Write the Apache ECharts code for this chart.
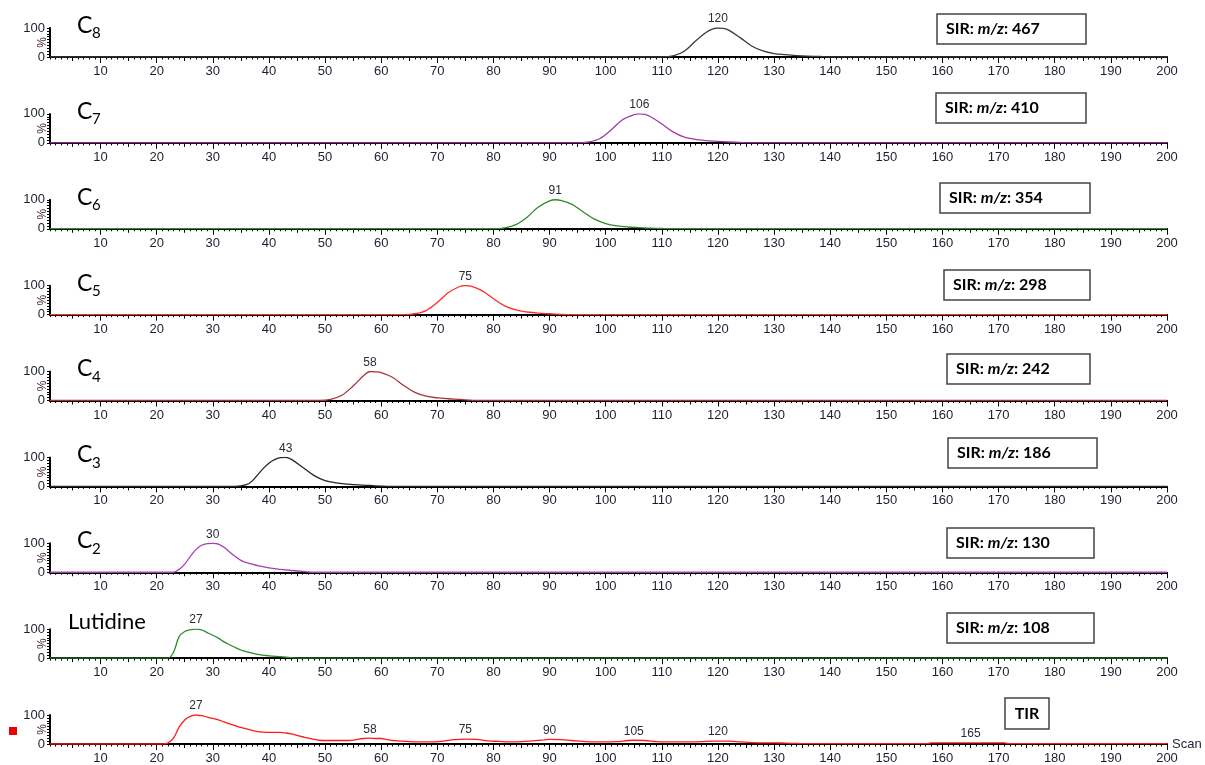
<!DOCTYPE html>
<html>
<head>
<meta charset="utf-8">
<script src="https://cdn.jsdelivr.net/npm/echarts@6/dist/echarts.min.js"></script>
<style>
html, body { margin: 0; padding: 0; background: #fff; }
#chart { width: 1205px; height: 765px; }
</style>
</head>
<body>
<div id="chart"></div>
<script>
// Scan axis: labelled every 10, medium ticks every 5
const scanLabels = [10, 20, 30, 40, 50, 60, 70, 80, 90, 100, 110, 120, 130, 140, 150, 160, 170, 180, 190, 200];
const scanMidTicks = [5, 15, 25, 35, 45, 55, 65, 75, 85, 95, 105, 115, 125, 135, 145, 155, 165, 175, 185, 195];
const intensityLabels = [0, 100];

// Chromatogram traces: [scan, relative intensity %]
const traceC8 = [[1,0],[110,0],[112,4],[114,20],[116,55],[118,86],[119,96],[120,100],[121,99],[122,92],[124,66],[126,38],[128,21],[130,12],[132,8],[134,5],[136,3],[138,2],[139,1],[140,0],[200,0]];
const traceC7 = [[1,0],[95,0],[97,3],[99,15],[101,45],[103,80],[105,97],[106,100],[107,98],[108,90],[110,65],[112,38],[114,20],[116,12],[118,8],[120,5],[122,3],[124,2],[125,0],[200,0]];
const traceC6 = [[1,0],[80,0],[82,3],[84,14],[86,40],[88,75],[90,96],[91,100],[92,98],[94,84],[96,58],[98,33],[100,18],[102,10],[104,6],[106,4],[108,2],[110,1],[111,0],[200,0]];
const traceC5 = [[1,0],[64,0],[66,3],[68,14],[70,42],[72,76],[74,97],[75,100],[76,98],[78,82],[80,55],[82,30],[84,16],[86,9],[88,5],[90,3],[92,1],[93,0],[200,0]];
const traceC4 = [[1,0],[49,0],[51,4],[53,18],[55,50],[57,88],[58,100],[59,99],[60,96],[62,80],[64,52],[66,28],[68,15],[70,9],[72,6],[74,4],[76,1],[77,0],[200,0]];
const traceC3 = [[1,0],[34,0],[36,6],[37,18],[39,62],[40,80],[41,92],[42,99],[43,100],[44,93],[46,66],[48,38],[50,20],[52,12],[54,8],[56,5],[58,3],[60,1],[61,0],[200,0]];
const traceC2 = [[1,0],[23,0],[24,10],[25,28],[26,55],[27,78],[28,93],[29,99],[30,100],[31,97],[32,86],[33,70],[34,54],[35,41],[36,33],[38,23],[40,15],[42,10],[44,6],[46,3],[47,1],[48,0],[200,0]];
const traceLutidine = [[1,0],[22,0],[23,20],[24,74],[25,92],[26,98],[27,100],[28,97],[29,88],[30,79],[31,69],[32,56],[33,46],[34,37],[35,28],[36,22],[38,13],[40,8],[42,5],[44,2],[45,0],[200,0]];
const traceTIR = [[1,0],[21,0],[22,3],[23,20],[24,58],[25,83],[26,95],[27,100],[28,98],[29,93],[30,88],[31,83],[32,76],[33,69],[34,63],[35,57],[36,52],[37,47],[38,43],[39,41],[40,40],[41,40],[42,40],[43,38],[44,35],[45,30],[46,25],[47,20],[48,16],[49,13],[50,12],[52,12],[54,12],[55,13],[56,17],[57,19],[58,20],[59,19],[60,19],[61,15],[62,12],[63,11],[65,8],[67,7],[69,7],[71,10],[73,15],[75,17],[77,16],[79,11],[81,9],[83,7],[85,8],[87,11],[89,14],[90,16],[92,15],[94,12],[96,9],[98,7],[100,7],[102,8],[104,12],[105,13],[107,12],[109,8],[111,7],[113,7],[115,7],[117,8],[119,10],[120,10],[122,10],[124,7],[126,5],[128,4],[130,4],[132,3],[134,2],[136,1],[150,1],[157,1],[158,4],[165,4],[171,4],[172,1],[200,1]];

// Peak apex scans annotated on each trace
const peaksC8 = [120];
const peaksC7 = [106];
const peaksC6 = [91];
const peaksC5 = [75];
const peaksC4 = [58];
const peaksC3 = [43];
const peaksC2 = [30];
const peaksLutidine = [27];
const peaksTIR = [27, 58, 75, 90, 105, 120, 165];

// Panel titles (base, subscript) and monitored ions
const titleBase = ['C', 'C', 'C', 'C', 'C', 'C', 'C', 'Lutidine', ''];
const titleSub = ['8', '7', '6', '5', '4', '3', '2', '', ''];
const sirMz = [467, 410, 354, 298, 242, 186, 130, 108];

const traces = [traceC8, traceC7, traceC6, traceC5, traceC4, traceC3, traceC2, traceLutidine, traceTIR];
const peaks = [peaksC8, peaksC7, peaksC6, peaksC5, peaksC4, peaksC3, peaksC2, peaksLutidine, peaksTIR];
const colors = ['#3a3a3a', '#a03aa6', '#2f8a2f', '#ff2b2b', '#a8323c', '#262626', '#a640b4', '#2e8a2e', '#ff1a1a'];

// Layout
const PANEL_TOP = 28, PANEL_STEP = 85.875, PANEL_H = 29, GRID_LEFT = 50, GRID_RIGHT = 38;
const boxLeft = [937, 936, 940, 944, 947, 948, 947, 947];
const boxTop = [14, 93, 183, 270, 354, 438, 528, 613];
const boxWidth = [149, 150, 150, 146, 143, 149, 147, 147];

const axisFont = 'Liberation Sans, Arial, sans-serif';
const axisTextColor = '#1c2030';
const grids = [], xAxes = [], yAxes = [], series = [], graphics = [];

traces.forEach((trace, i) => {
  const top = PANEL_TOP + PANEL_STEP * i;
  grids.push({ left: GRID_LEFT, right: GRID_RIGHT, top: top, height: PANEL_H, containLabel: false, outerBoundsMode: 'none' });
  const last = i === traces.length - 1;
  const base = xAxes.length;
  // main scan axis with labels and long ticks
  xAxes.push({
    type: 'value', gridIndex: i, min: 1, max: 200, position: 'bottom',
    axisLine: { show: true, lineStyle: { color: '#000', width: 2 } },
    axisTick: { show: true, customValues: scanLabels, length: 6, lineStyle: { color: '#000', width: 1 } },
    axisLabel: { show: true, customValues: scanLabels, margin: 8, color: axisTextColor, fontSize: 13, fontFamily: axisFont },
    splitLine: { show: false },
    name: last ? 'Scan' : '', nameLocation: 'end', nameGap: 5, nameMoveOverlap: false,
    nameTextStyle: { color: axisTextColor, fontSize: 13, fontFamily: axisFont }
  });
  // medium ticks at 5s
  xAxes.push({
    type: 'value', gridIndex: i, min: 1, max: 200, position: 'bottom',
    axisLine: { show: false },
    axisTick: { show: true, customValues: scanMidTicks, length: 4, lineStyle: { color: '#000', width: 1 } },
    axisLabel: { show: false }, splitLine: { show: false }
  });
  // short ticks at every scan
  xAxes.push({
    type: 'value', gridIndex: i, min: 1, max: 200, interval: 1, position: 'bottom',
    axisLine: { show: false },
    axisTick: { show: true, length: 2.5, lineStyle: { color: '#000', width: 1 } },
    axisLabel: { show: false }, splitLine: { show: false }
  });
  yAxes.push({
    type: 'value', gridIndex: i, min: 0, max: 100, interval: 10,
    axisLine: { show: true, lineStyle: { color: '#000', width: 2 } },
    axisTick: { show: true, length: 3, lineStyle: { color: '#000', width: 1 } },
    axisLabel: { show: true, customValues: intensityLabels, margin: 5, color: axisTextColor, fontSize: 13, fontFamily: axisFont },
    splitLine: { show: false }
  });

  // rotated percent sign beside each intensity axis
  graphics.push({
    type: 'text', x: 43, y: top + PANEL_H / 2, rotation: Math.PI / 2,
    style: { text: '%', align: 'center', verticalAlign: 'middle', fill: '#4a2a3a', font: '12px ' + axisFont }
  });

  const peakMarks = peaks[i].map(px => {
    const pt = trace.find(p => p[0] === px);
    return { coord: [pt[0], pt[1]], value: pt[0] };
  });

  series.push({
    type: 'line', xAxisIndex: base, yAxisIndex: i, data: trace,
    smooth: 0.35, symbol: 'none', z: 5,
    lineStyle: { color: colors[i], width: 1.3 },
    markPoint: {
      symbol: 'circle', symbolSize: 0, silent: true,
      label: { show: true, position: 'top', distance: 3, formatter: p => String(p.value),
               color: '#2a2a3a', fontSize: 12, fontFamily: axisFont },
      data: peakMarks
    }
  });

  // panel title
  if (titleBase[i]) {
    const isC = titleSub[i] !== '';
    graphics.push({
      type: 'group', x: isC ? 77 : 68, y: isC ? top - 14 : top - 18,
      children: [
        { type: 'text', x: 0, y: 0, style: { text: titleBase[i], fill: '#000', font: (isC ? '23px' : '22px') + ' Lato, "Open Sans", sans-serif' } },
        { type: 'text', x: 15, y: 12, style: { text: titleSub[i], fill: '#000', font: '15px Lato, "Open Sans", sans-serif' } }
      ]
    });
  }

  // ion box
  if (i < sirMz.length) {
    graphics.push({
      type: 'group', x: boxLeft[i], y: boxTop[i],
      children: [
        { type: 'rect', shape: { x: 0, y: 0, width: boxWidth[i], height: 30 }, style: { fill: '#fff', stroke: '#444', lineWidth: 1.5 } },
        { type: 'text', x: 9, y: 15, style: {
            text: '{b|SIR: }{i|m/z}{b|: ' + sirMz[i] + '}', verticalAlign: 'middle',
            rich: {
              b: { fontSize: 16, fontWeight: 'bold', fontFamily: 'Lato, "Open Sans", sans-serif', fill: '#000' },
              i: { fontSize: 16, fontWeight: 'bold', fontStyle: 'italic', fontFamily: 'Lato, "Open Sans", sans-serif', fill: '#000' }
            }
        } }
      ]
    });
  }
});

// total ion trace box and marker
graphics.push({
  type: 'group', x: 1005, y: 698,
  children: [
    { type: 'rect', shape: { x: 0, y: 0, width: 44, height: 31 }, style: { fill: '#fff', stroke: '#444', lineWidth: 1.5 } },
    { type: 'text', x: 22, y: 15.5, style: { text: 'TIR', align: 'center', verticalAlign: 'middle', font: 'bold 16px Lato, "Open Sans", sans-serif', fill: '#000' } }
  ]
});
graphics.push({ type: 'rect', x: 9, y: 727, shape: { width: 8, height: 8 }, style: { fill: '#ee0000' } });

const chart = echarts.init(document.getElementById('chart'), null, { renderer: 'canvas' });
chart.setOption({
  animation: false,
  backgroundColor: '#fff',
  grid: grids,
  xAxis: xAxes,
  yAxis: yAxes,
  series: series,
  graphic: graphics
});
</script>
</body>
</html>
